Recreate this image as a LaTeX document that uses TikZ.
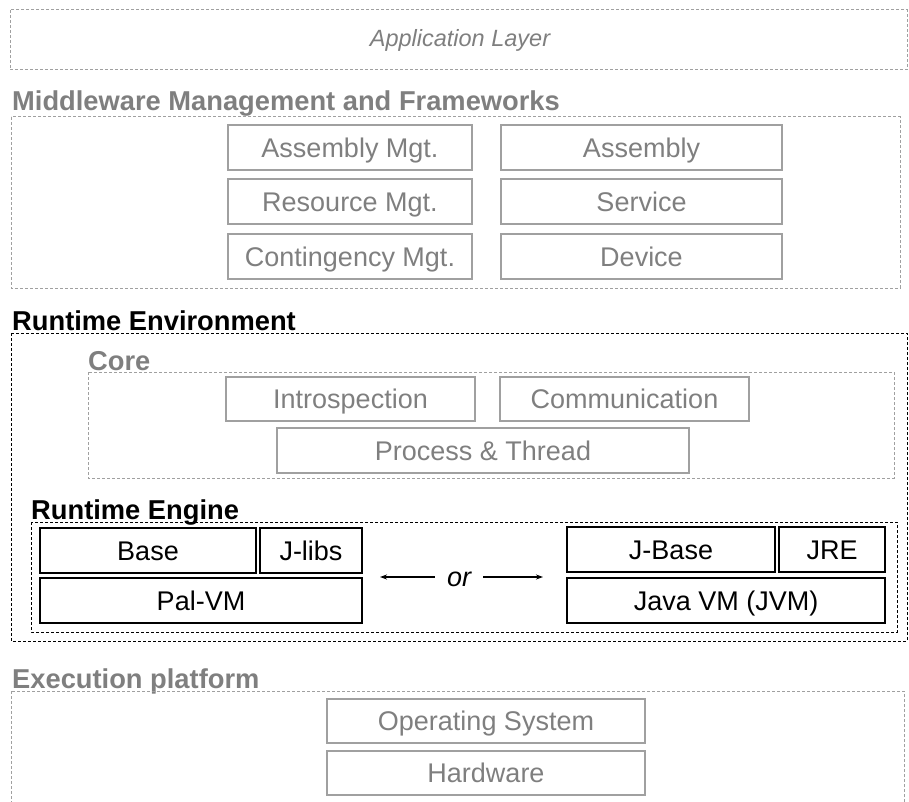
\documentclass[tikz,border=0pt]{standalone}
\usepackage{fontspec}
\setmainfont{Liberation Sans}
\usetikzlibrary{arrows.meta}
\definecolor{txtgray}{HTML}{7F7F7F}
\definecolor{linegray}{HTML}{A0A0A0}
\tikzset{
  big/.style={font=\fontsize{27}{32}\selectfont, text height=19.3pt, text depth=0pt},
  layer/.style={draw=linegray, line width=1pt, dash pattern=on 3pt off 2pt},
  darklayer/.style={draw=black, line width=1pt, dash pattern=on 3pt off 2pt},
  title/.style={font=\fontsize{27.3}{32}\selectfont\bfseries, anchor=base west, inner sep=0pt},
  graytitle/.style={title, text=txtgray},
  blacktitle/.style={title, text=black},
  graybox/.style={big, draw=linegray, line width=1.3pt, text=txtgray, inner sep=0pt},
  blackbox/.style={big, draw=black, line width=1.3pt, text=black, inner sep=0pt},
  arr/.style={-{Stealth[length=7pt,width=5pt]}, line width=1.2pt, black},
}
\begin{document}
\begin{tikzpicture}[x=1pt, y=-1pt]
\useasboundingbox (0,0) rectangle (909,802);
\clip (0,0) rectangle (909,802);

% Application layer
\draw[layer] (10,10) rectangle (907,70);
\node[text=txtgray, font=\fontsize{23.5}{28}\selectfont\itshape, text height=17pt, text depth=0pt] (app) at (460,38) {Application Layer};

% Middleware management and frameworks
\node[graytitle] (mwt) at (12,111) {Middleware Management and Frameworks};
\draw[layer] (11,117) rectangle (900,288);
\node[graybox, minimum width=244pt, minimum height=45pt] (amgt) at (350,147.5) {Assembly Mgt.};
\node[graybox, minimum width=244pt, minimum height=45pt] (rmgt) at (350,201.5) {Resource Mgt.};
\node[graybox, minimum width=244pt, minimum height=45pt] (cmgt) at (350,256.5) {Contingency Mgt.};
\node[graybox, minimum width=281pt, minimum height=45pt] (asm) at (641.5,147.5) {Assembly};
\node[graybox, minimum width=281pt, minimum height=45pt] (svc) at (641.5,201.5) {Service};
\node[graybox, minimum width=281pt, minimum height=45pt] (dev) at (641.5,256.5) {Device};

% Runtime environment
\node[blacktitle] (ret) at (12,330) {Runtime Environment};
\draw[darklayer] (11,333) rectangle (907,641);

% Core
\node[graytitle] (coret) at (88,370) {Core};
\draw[layer] (88,372) rectangle (894,478);
\node[graybox, minimum width=249pt, minimum height=44pt] (intro) at (350.5,399) {Introspection};
\node[graybox, minimum width=249pt, minimum height=44pt] (comm) at (624.5,399) {Communication};
\node[graybox, minimum width=412pt, minimum height=45pt] (proc) at (483,450.5) {Process \& Thread};

% Runtime engine
\node[blacktitle] (engt) at (31,519) {Runtime Engine};
\draw[darklayer] (31,522) rectangle (897,632);
\node[blackbox, minimum width=216pt, minimum height=45pt] (base) at (148,550.5) {Base};
\node[blackbox, minimum width=102pt, minimum height=45pt] (jlibs) at (311,550.5) {J-libs};
\node[blackbox, minimum width=322pt, minimum height=45pt] (palvm) at (201,600.5) {Pal-VM};
\node[blackbox, minimum width=208pt, minimum height=45pt] (jbase) at (671,549.5) {J-Base};
\node[blackbox, minimum width=106pt, minimum height=45pt] (jre) at (832,549.5) {JRE};
\node[blackbox, minimum width=318pt, minimum height=45pt] (jvm) at (726,600.5) {Java VM (JVM)};

% Alternative between the two engines
\node[big, font=\fontsize{27}{32}\selectfont\itshape, inner xsep=12pt, inner ysep=0pt] (or) at (459,577) {or};
\coordinate (ltip) at (380,577);
\coordinate (rtip) at (543,577);
\draw[arr] (or.west) -- (ltip);
\draw[arr] (or.east) -- (rtip);

% Execution platform
\node[graytitle] (exet) at (12,688) {Execution platform};
\draw[layer] (11,691) rectangle (904,820);
\node[graybox, minimum width=318pt, minimum height=44pt] (os) at (486,721) {Operating System};
\node[graybox, minimum width=318pt, minimum height=44pt] (hw) at (486,773) {Hardware};
\end{tikzpicture}
\end{document}
